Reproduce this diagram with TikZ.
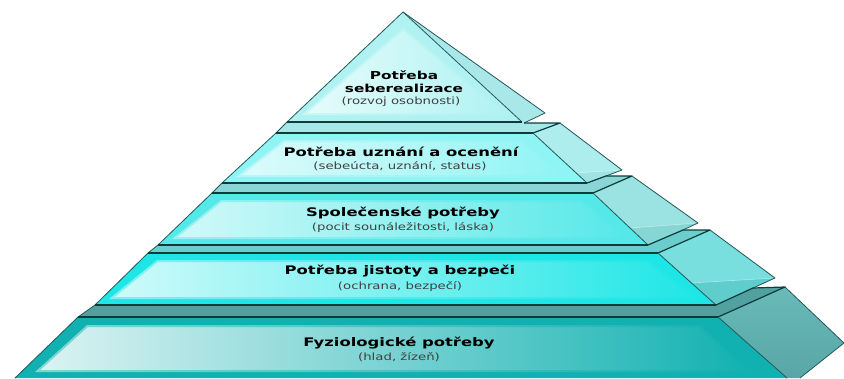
\documentclass[tikz,border=0pt]{standalone}
\usepackage{fontspec}
\newfontfamily\titlef[FakeStretch=1.39]{DejaVu Sans Bold}
\newfontfamily\subf[FakeStretch=1.33]{DejaVu Sans}
\definecolor{edge}{HTML}{245858}
\definecolor{edgedark}{HTML}{0C3C3C}
\definecolor{subgray}{HTML}{404040}
% tier colours
\definecolor{f1}{HTML}{B0F2F2}\definecolor{g1}{HTML}{E6FCFC}\definecolor{s1}{HTML}{A8E8E8}
\definecolor{f2}{HTML}{8EF4F4}\definecolor{g2}{HTML}{DDFBFB}\definecolor{s2}{HTML}{AEEDED}\definecolor{l2}{HTML}{9EE4E4}\definecolor{p2}{HTML}{A6E7E7}
\definecolor{f3}{HTML}{55E8E8}\definecolor{g3}{HTML}{D2F9F9}\definecolor{s3}{HTML}{9BE2E2}\definecolor{l3}{HTML}{86D6D6}\definecolor{p3}{HTML}{8AD6D6}
\definecolor{f4}{HTML}{1FE6E6}\definecolor{g4}{HTML}{D0FAFA}\definecolor{s4}{HTML}{78DEDE}\definecolor{l4}{HTML}{60CDCD}\definecolor{p4}{HTML}{6CCDCD}
\definecolor{f5}{HTML}{12B1B1}\definecolor{g5}{HTML}{DDF3F3}\definecolor{s5}{HTML}{6ABABA}\definecolor{l5}{HTML}{58A6A6}\definecolor{p5}{HTML}{52A0A0}
\begin{document}
\begin{tikzpicture}[x=1pt,y=-1pt,line join=round,
  ol/.style={draw=edge,line width=0.8pt},
  topedge/.style={draw=edgedark,line width=1.5pt},
  glint/.style={draw=white,draw opacity=0.45,line width=0.6pt},
  soft/.style={draw=#1,draw opacity=0.45,line width=4pt},
  title/.style={font=\titlef\fontsize{11.8}{13}\selectfont,text=black,inner sep=0pt},
  toptitle/.style={font=\titlef\fontsize{11}{12}\selectfont,text=black,inner sep=0pt},
  subt/.style={font=\subf\fontsize{10}{11}\selectfont,text=subgray,inner sep=0pt}]
\useasboundingbox (0,0) rectangle (844,378);
% ---------- coordinates ----------
\coordinate (ap) at (403,12);
\coordinate (t1bl) at (287,122);
\coordinate (t1br) at (522,122);
\coordinate (t1s) at (545,113);
\coordinate (t1e) at (524,123);
\coordinate (t2tl) at (276,133); \coordinate (t2tr) at (533,133);
\coordinate (t2br) at (587,183); \coordinate (t2bl) at (222,183);
\coordinate (t2b) at (560,123);  \coordinate (t2c) at (622,170);
\coordinate (t3tl) at (212,193); \coordinate (t3tr) at (593,193);
\coordinate (t3br) at (648,245); \coordinate (t3bl) at (158,245);
\coordinate (t3p) at (606,176);  \coordinate (t3b) at (632,176); \coordinate (t3c) at (698,223);
\coordinate (t4tl) at (148,253); \coordinate (t4tr) at (658,253);
\coordinate (t4br) at (716,305); \coordinate (t4bl) at (95,305);
\coordinate (t4p) at (683,230);  \coordinate (t4b) at (710,230); \coordinate (t4c) at (775,278);
\coordinate (t5tl) at (78,317);  \coordinate (t5tr) at (718,317);
\coordinate (t5br) at (787,378); \coordinate (t5bl) at (15,378);
\coordinate (t5p) at (753,288);  \coordinate (t5b) at (785,287); \coordinate (t5c) at (844,343);
\coordinate (t5d) at (800,378);
% ---------- side faces ----------
\fill[s1] (ap) -- (t1s) -- (t1e) -- (t1br) -- cycle;
\draw[ol] (ap) -- (t1s) -- (t1e);
\fill[s2] (t2tr) -- (t2b) -- (t2c) -- (t3p) -- (t2br) -- cycle;
\fill[l2] (576,173) -- (t2c) -- (t3p) -- (t2br) -- cycle;
\draw[glint] (576,173) -- (t2c);
\draw[ol] (t2b) -- (t2c) -- (t3p);
\fill[s3] (t3tr) -- (t3b) -- (t3c) -- (t4p) -- (t3br) -- cycle;
\fill[l3] (630,228) -- (t3c) -- (t4p) -- (t3br) -- cycle;
\draw[glint] (630,228) -- (t3c);
\draw[ol] (t3b) -- (t3c) -- (t4p);
\fill[s4] (t4tr) -- (t4b) -- (t4c) -- (t5p) -- (t4br) -- cycle;
\fill[l4] (691,283) -- (t4c) -- (t5p) -- (t4br) -- cycle;
\draw[glint] (691,283) -- (t4c);
\draw[ol] (t4b) -- (t4c) -- (t5p);
\shade[top color=s5,bottom color=l5] (t5tr) -- (t5b) -- (t5c) -- (t5d) -- (t5br) -- cycle;
\draw[ol] (t5b) -- (t5c) -- (t5d);
% ---------- top strips ----------
\fill[p2] (t2tl) -- (t1bl) -- (t1br) -- (t1e) -- (t2b) -- (t2tr) -- cycle;
\draw[ol] (t2tl) -- (t1bl);
\draw[edgedark,line width=1.2pt] (t1e) -- (t2b) -- (t2tr);
\fill[p3] (t3tl) -- (t2bl) -- (t2br) -- (t3p) -- (t3b) -- (t3tr) -- cycle;
\draw[ol] (t3tl) -- (t2bl);
\draw[edgedark,line width=1.2pt] (t2br) -- (t3p) -- (t3b) -- (t3tr);
\fill[p4] (t4tl) -- (t3bl) -- (t3br) -- (t4p) -- (t4b) -- (t4tr) -- cycle;
\draw[ol] (t4tl) -- (t3bl);
\draw[edgedark,line width=1.2pt] (t3br) -- (t4p) -- (t4b) -- (t4tr);
\fill[p5] (t5tl) -- (t4bl) -- (t4br) -- (t5p) -- (t5b) -- (t5tr) -- cycle;
\draw[ol] (t5tl) -- (t4bl);
\draw[edgedark,line width=1.2pt] (t4br) -- (t5p) -- (t5b) -- (t5tr);
% ---------- front faces ----------
\fill[f1] (ap) -- (t1bl) -- (t1br) -- cycle;
\shade[left color=g1,middle color=f1!70!g1,right color=f1] (403,28) -- (302,115) -- (508,115) -- cycle;
\draw[soft=f1] (403,28) -- (302,115) -- (508,115) -- cycle;
\draw[ol] (t1br) -- (ap) -- (t1bl);
\draw[topedge,line width=1.1pt] (t1bl) -- (t1br);
%
\fill[f2] (t2tl) -- (t2tr) -- (t2br) -- (t2bl) -- cycle;
\shade[left color=g2,middle color=f2,right color=f2] (284,140) -- (522,140) -- (570,177) -- (236,177) -- cycle;
\draw[soft=f2] (284,140) -- (522,140) -- (570,177) -- (236,177) -- cycle;
\draw[ol] (t2tr) -- (t2br); \draw[ol] (t2tl) -- (t2bl);
\draw[topedge] (t2tl) -- (t2tr);
\draw[topedge,line width=1.2pt] (t2bl) -- (t2br);
%
\fill[f3] (t3tl) -- (t3tr) -- (t3br) -- (t3bl) -- cycle;
\shade[left color=g3,middle color=f3,right color=f3] (221,200) -- (582,200) -- (632,239) -- (172,239) -- cycle;
\draw[soft=f3] (221,200) -- (582,200) -- (632,239) -- (172,239) -- cycle;
\draw[ol] (t3tr) -- (t3br); \draw[ol] (t3tl) -- (t3bl);
\draw[topedge] (t3tl) -- (t3tr);
\draw[topedge,line width=1.2pt] (t3bl) -- (t3br);
%
\fill[f4] (t4tl) -- (t4tr) -- (t4br) -- (t4bl) -- cycle;
\shade[left color=g4,middle color=f4,right color=f4] (157,260) -- (647,260) -- (700,299) -- (109,299) -- cycle;
\draw[soft=f4] (157,260) -- (647,260) -- (700,299) -- (109,299) -- cycle;
\draw[ol] (t4tr) -- (t4br); \draw[ol] (t4tl) -- (t4bl);
\draw[topedge] (t4tl) -- (t4tr);
\draw[topedge,line width=1.2pt] (t4bl) -- (t4br);
%
\fill[f5] (t5tl) -- (t5tr) -- (t5br) -- (t5bl) -- cycle;
\shade[left color=g5,middle color=f5!55!g5,right color=f5] (87,325) -- (700,325) -- (752,372) -- (35,372) -- cycle;
\draw[soft=f5] (87,325) -- (700,325) -- (752,372) -- (35,372) -- cycle;
\draw[ol] (t5tr) -- (t5br); \draw[ol] (t5tl) -- (t5bl);
\draw[topedge] (t5tl) -- (t5tr);
% ---------- texts ----------
\node[toptitle] (n1a) at (404,75) {Potřeba};
\node[toptitle] (n1b) at (404,88) {seberealizace};
\node[subt] (n1c) at (401,102) {(rozvoj osobnosti)};
\node[title] (n2a) at (401,152) {Potřeba uznání a ocenění};
\node[subt] (n2b) at (400,166) {(sebeúcta, uznání, status)};
\node[title] (n3a) at (403,213) {Společenské potřeby};
\node[subt] (n3b) at (403,228) {(pocit sounáležitosti, láska)};
\node[title] (n4a) at (400,271) {Potřeba jistoty a bezpeči};
\node[subt] (n4b) at (400,287) {(ochrana, bezpečí)};
\node[title] (n5a) at (399,343) {Fyziologické potřeby};
\node[subt] (n5b) at (399,357) {(hlad, žízeň)};
\end{tikzpicture}
\end{document}
